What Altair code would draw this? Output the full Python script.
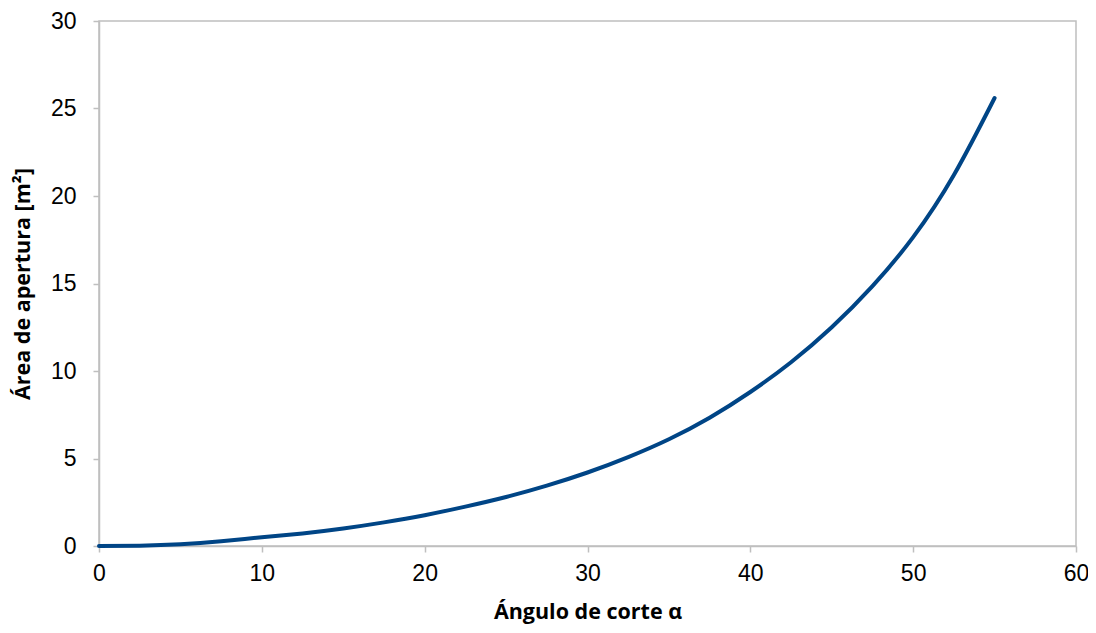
import altair as alt
import pandas as pd

angle = [0, 2.5, 5, 7.5, 10, 12.5, 15, 17.5, 20, 22.5, 25, 27.5, 30, 32.5, 35, 37.5, 40, 42.5, 45, 47.5, 50, 52.5, 55]
area = [0, 0.02, 0.1, 0.27, 0.5, 0.72, 1.0, 1.35, 1.76, 2.25, 2.8, 3.45, 4.2, 5.08, 6.1, 7.33, 8.8, 10.5, 12.5, 14.85, 17.65, 21.2, 25.6]

df = pd.DataFrame({"angle": angle, "area": area})

grey = "#bfbfbf"

chart = alt.Chart(df).mark_line(
    color="#004586", strokeWidth=4, strokeCap="round", interpolate="natural"
).encode(
    x=alt.X("angle:Q", scale=alt.Scale(domain=[0, 60], nice=False),
            axis=alt.Axis(values=[0, 10, 20, 30, 40, 50, 60], title="Ángulo de corte α",
                          grid=False, titlePadding=16, labelPadding=10)),
    y=alt.Y("area:Q", scale=alt.Scale(domain=[0, 30], nice=False),
            axis=alt.Axis(values=[0, 5, 10, 15, 20, 25, 30], title="Área de apertura [m²]",
                          grid=False, titlePadding=16, labelPadding=17)),
).properties(
    width=977, height=525,
    autosize=alt.AutoSizeParams(type="none"),
    padding={"left": 91, "top": 13, "right": 12, "bottom": 79},
).configure_view(
    stroke=grey, strokeWidth=1.5
).configure_axis(
    domainColor=grey, domainWidth=1.5, tickColor=grey, tickWidth=1.5, tickSize=6,
    labelFont="Liberation Sans", labelFontSize=23, labelColor="#000000", labelFlush=False,
    titleFont="Open Sans", titleFontSize=21.5, titleFontWeight="bold", titleColor="#000000",
)

chart.save("out.html", embed_options={"renderer": "svg", "actions": False})
